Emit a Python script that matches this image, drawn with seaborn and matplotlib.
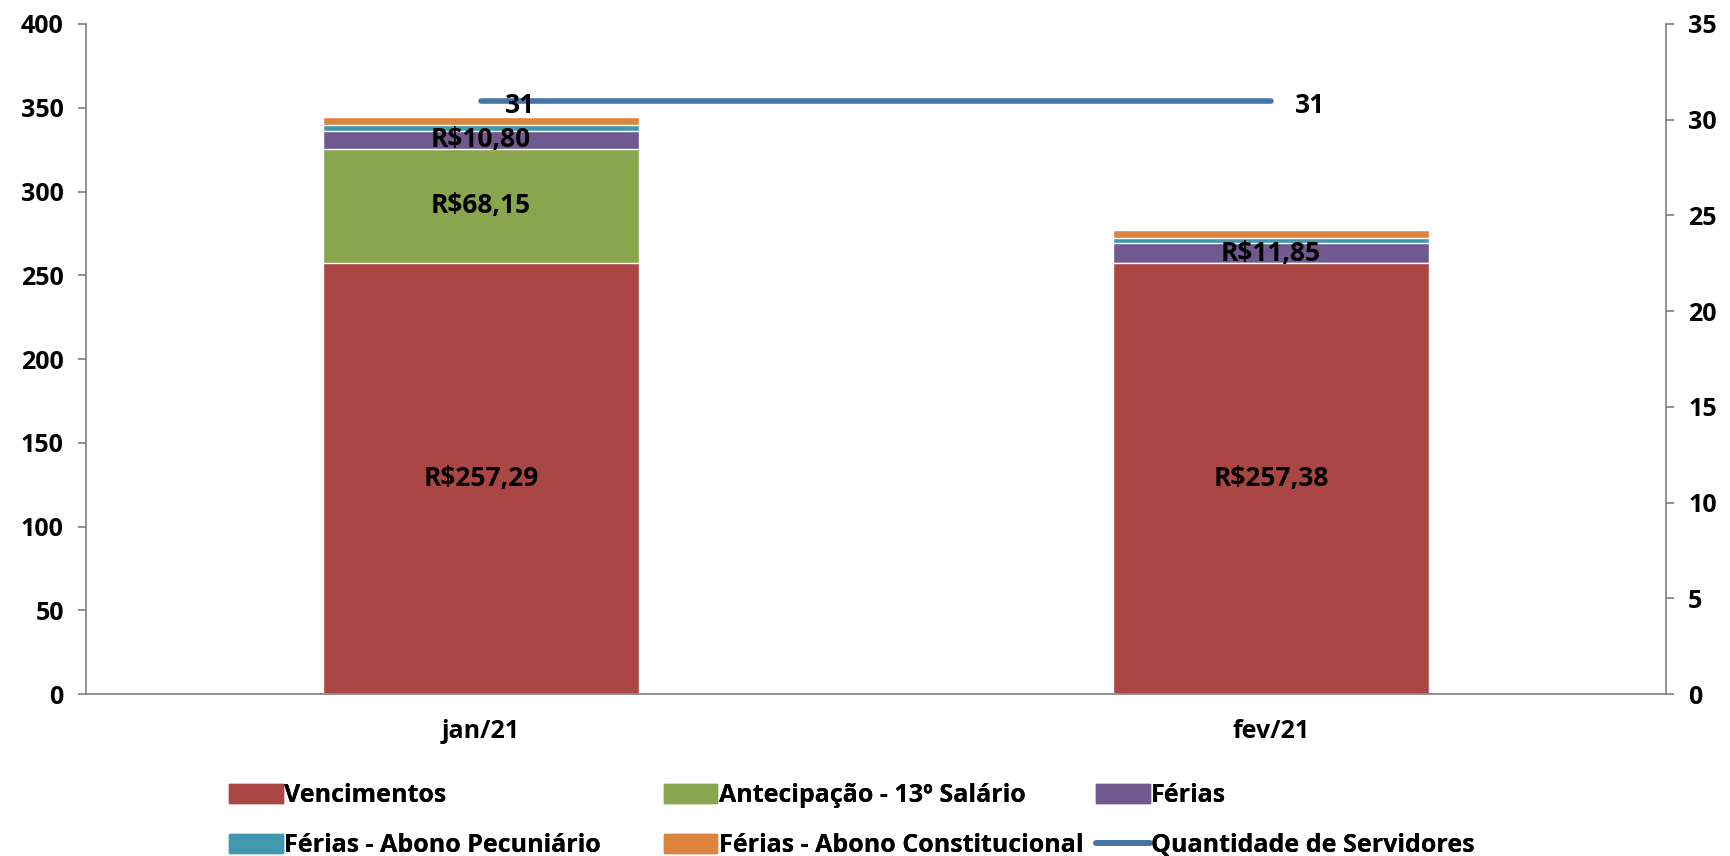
import numpy as np
import pandas as pd
import seaborn as sns
import matplotlib.pyplot as plt
from matplotlib.patches import Patch
from matplotlib.lines import Line2D

# data
months = ["jan/21", "fev/21"]
vencimentos = [257.29, 257.38]
antecipacao = [68.15, 0.0]
ferias = [10.80, 11.85]
abono_pecuniario = [3.5, 3.0]
abono_constitucional = [4.8, 5.0]
qtd_servidores = [31, 31]

series_names = ["Vencimentos", "Antecipação - 13º Salário", "Férias",
                "Férias - Abono Pecuniário", "Férias - Abono Constitucional"]
series_values = [vencimentos, antecipacao, ferias, abono_pecuniario, abono_constitucional]
colors = ["#AA4643", "#89A54E", "#71588F", "#4198AF", "#DB843D"]
line_color = "#4572A7"
line_label = "Quantidade de Servidores"

sns.set_style("white")
plt.rcParams['font.family'] = ['Open Sans', 'DejaVu Sans']
plt.rcParams['font.weight'] = 'bold'
plt.rcParams['text.color'] = 'black'
plt.rcParams['xtick.labelcolor'] = 'black'
plt.rcParams['ytick.labelcolor'] = 'black'
FS = 18

fig = plt.figure(figsize=(17.3, 8.56), dpi=100)
ax = fig.add_axes([0.0497, 0.189, 0.9133, 0.783])

# stacked bars: draw cumulative totals from tallest to smallest
cum = np.cumsum(np.array(series_values), axis=0)
for i in range(len(series_names) - 1, -1, -1):
    df = pd.DataFrame({"mes": months, "valor": cum[i]})
    sns.barplot(data=df, x="mes", y="valor", color=colors[i], width=0.4,
                saturation=1, errorbar=None, ax=ax, order=months)

# segment labels (only the three main components)
for j, m in enumerate(months):
    for i in range(3):
        v = series_values[i][j]
        if v <= 0:
            continue
        base = cum[i][j] - v
        ax.text(j, base + v / 2, f"R${v:.2f}".replace(".", ","), ha="center", va="center",
                fontsize=19, fontweight="bold", color="black")

ax.set_ylim(0, 400)
ax.set_yticks(range(0, 401, 50))
ax.set_xlim(-0.5, 1.5)
ax.set_xlabel("")
ax.set_ylabel("")

ax2 = ax.twinx()
sns.pointplot(x=months, y=qtd_servidores, ax=ax2, color=line_color, markers="",
              errorbar=None, order=months)
for ln in ax2.lines:
    ln.set_linewidth(4)
    ln.set_solid_capstyle("round")
ax2.set_ylim(0, 35)
ax2.set_yticks(range(0, 36, 5))
ax2.set_xlim(-0.5, 1.5)
ax2.set_ylabel("")
for j, q in enumerate(qtd_servidores):
    ax2.text(j + 0.03, q - 0.25, f"{q}", ha="left", va="center",
             fontsize=19, fontweight="bold", color="black")

gray = "#888888"
for a in (ax, ax2):
    for s in a.spines.values():
        s.set_visible(False)
ax.spines["left"].set_visible(True)
ax.spines["bottom"].set_visible(True)
ax2.spines["right"].set_visible(True)
for s in (ax.spines["left"], ax.spines["bottom"], ax2.spines["right"]):
    s.set_color(gray)
    s.set_linewidth(1.3)

ax.set_xticks([-0.5, 0.5, 1.5], minor=False)
ax.set_xticks([0, 1], minor=True)
ax.set_xticklabels(["", "", ""])
ax.set_xticklabels(months, minor=True)
ax.tick_params(axis="x", which="major", length=6, color=gray, width=1.3, direction="out")
ax.tick_params(axis="x", which="minor", length=0, pad=18, labelsize=FS, labelcolor="black")
ax.tick_params(axis="y", length=6, color=gray, width=1.3, labelsize=FS, pad=10, labelcolor="black")
ax2.tick_params(axis="y", length=6, color=gray, width=1.3, labelsize=FS, pad=10, labelcolor="black")
ax2.tick_params(axis="x", length=0)
for lab in ax.get_xticklabels(minor=True) + ax.get_yticklabels() + ax2.get_yticklabels():
    lab.set_fontweight("bold")

# legend: three equal-width columns, one legend per column
col_handles = [
    [Patch(color=colors[0]), Patch(color=colors[3])],
    [Patch(color=colors[1]), Patch(color=colors[4])],
    [Patch(color=colors[2]), Line2D([], [], color=line_color, lw=4)],
]
col_labels = [
    [series_names[0], series_names[3]],
    [series_names[1], series_names[4]],
    [series_names[2], line_label],
]
col_x = [0.121, 0.372, 0.622]
for hs, ls, x in zip(col_handles, col_labels, col_x):
    leg = fig.legend(hs, ls, loc="lower left", bbox_to_anchor=(x, -0.026),
                     frameon=False, handlelength=2.15, handleheight=0.75,
                     handletextpad=0.05, labelspacing=1.0, borderpad=0.3,
                     prop={"weight": "bold", "size": FS}, labelcolor="black")
    fig.add_artist(leg)

fig.savefig("out.png", dpi=100)
